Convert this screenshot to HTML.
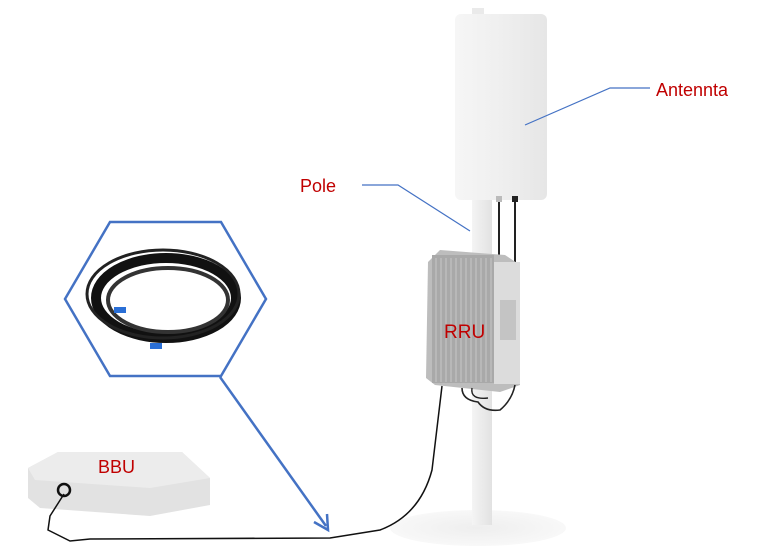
<!DOCTYPE html>
<html><head><meta charset="utf-8"><style>
body{margin:0;width:771px;height:551px;background:#fff;overflow:hidden;font-family:"Liberation Sans",sans-serif}
</style></head><body>
<svg width="771" height="551" viewBox="0 0 771 551" xmlns="http://www.w3.org/2000/svg">
<defs>
<linearGradient id="ant" x1="0" x2="1"><stop offset="0" stop-color="#f6f6f6"/><stop offset="0.5" stop-color="#efefef"/><stop offset="1" stop-color="#e6e6e6"/></linearGradient>
<linearGradient id="pole" x1="0" x2="1"><stop offset="0" stop-color="#f4f4f4"/><stop offset="1" stop-color="#e2e2e2"/></linearGradient>
<radialGradient id="base"><stop offset="0" stop-color="#eeeeee"/><stop offset="1" stop-color="#f8f8f8"/></radialGradient>
</defs>
<ellipse cx="478" cy="528" rx="88" ry="18" fill="url(#base)"/>
<rect x="472" y="195" width="20" height="330" fill="url(#pole)"/>
<rect x="472" y="8" width="12" height="8" fill="#eaeaea"/>
<rect x="455" y="14" width="92" height="186" rx="6" fill="url(#ant)"/>
<rect x="496" y="196" width="6" height="6" fill="#bbb"/>
<rect x="512" y="196" width="6" height="6" fill="#222"/>
<path d="M499 202 V262 M515 202 V262" stroke="#222" stroke-width="2" fill="none"/>
<polygon points="428,262 440,250 505,255 520,265 520,385 500,392 435,385 426,378" fill="#bdbdbd"/>
<rect x="432" y="255" width="62" height="128" fill="#a9a9a9"/>
<g stroke="#c8c8c8" stroke-width="1">
<path d="M436 258V382M441 258V382M446 258V382M451 258V382M456 258V382M461 258V382M466 258V382M471 258V382M476 258V382M481 258V382M486 258V382M491 258V382"/>
</g>
<rect x="494" y="262" width="26" height="122" fill="#dcdcdc"/>
<rect x="500" y="300" width="16" height="40" fill="#c4c4c4"/>
<path d="M462 388 Q462 400 478 402 Q485 412 500 410 Q512 400 515 385" stroke="#222" stroke-width="1.6" fill="none"/>
<path d="M472 388 Q470 400 488 398" stroke="#222" stroke-width="1.4" fill="none"/>
<text x="444" y="338" font-size="19" fill="#c00000">RRU</text>
<polygon points="28,468 58,452 182,452 210,478 210,505 150,516 40,508 28,498" fill="#e2e2e2"/>
<polygon points="28,468 58,452 182,452 210,478 150,488 35,480" fill="#ececec"/>
<circle cx="64" cy="490" r="6" fill="none" stroke="#111" stroke-width="2.5"/>
<text x="98" y="473" font-size="18" fill="#c00000">BBU</text>
<path d="M64 494 L50 516 L48 530 L70 541 L90 539 L330 538 L380 530 Q420 515 432 470 L442 386" stroke="#111" stroke-width="1.5" fill="none"/>
<polygon points="110,222 221,222 266,299 221,376 110,376 65,299" fill="#fff" stroke="#4472c4" stroke-width="2.5"/>
<ellipse cx="166" cy="298" rx="70" ry="40" fill="none" stroke="#111" stroke-width="10"/>
<ellipse cx="168" cy="300" rx="60" ry="32" fill="none" stroke="#333" stroke-width="4"/>
<ellipse cx="163" cy="294" rx="76" ry="44" fill="none" stroke="#222" stroke-width="3"/>
<rect x="114" y="307" width="12" height="6" fill="#2a6fd6"/>
<rect x="150" y="343" width="12" height="6" fill="#2a6fd6"/>
<path d="M220 377 L326 526" stroke="#4472c4" stroke-width="2.5" fill="none"/>
<path d="M314 522 L328 530 L327 514" stroke="#4472c4" stroke-width="2.5" fill="none"/>
<path d="M525 125 L610 88 L650 88" stroke="#4472c4" stroke-width="1.2" fill="none"/>
<text x="656" y="96" font-size="18" fill="#c00000">Antennta</text>
<path d="M362 185 L398 185 L470 231" stroke="#4472c4" stroke-width="1.2" fill="none"/>
<text x="300" y="192" font-size="18" fill="#c00000">Pole</text>
</svg>
</body></html>
